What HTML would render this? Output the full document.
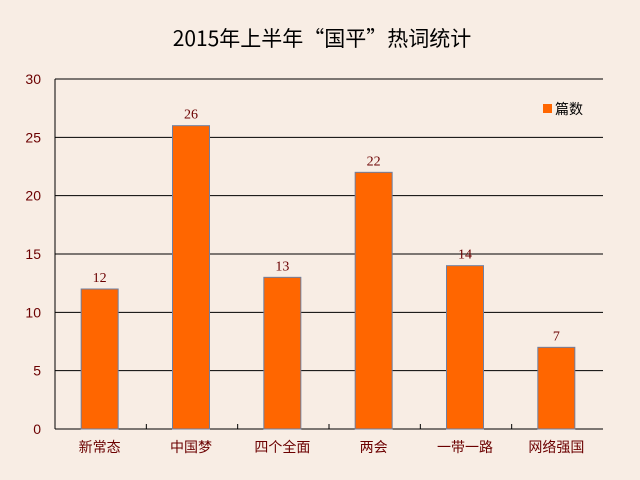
<!DOCTYPE html>
<html><head><meta charset="utf-8"><style>
body{margin:0;background:#f8ede4;}
svg{display:block;font-family:"Liberation Sans","Noto Sans CJK SC",sans-serif;}
</style></head><body>
<svg id="c" width="640" height="480">
<rect width="640" height="480" fill="#f8ede4"/>
<text x="322" y="46" text-anchor="middle" font-size="21" fill="#000" style="font-family:'Noto Sans CJK SC',sans-serif">2015年上半年“国平”热词统计</text>
<g id="grid"></g><g id="bars"></g>
<g>
<rect x="543" y="104" width="9" height="9" fill="#ff6600"/>
<text x="555" y="114" font-size="14" fill="#000">篇数</text>
</g>
</svg>
<script>
const categories=["新常态","中国梦","四个全面","两会","一带一路","网络强国"];
const values=[12,26,13,22,14,7];
const yTicks=[0,5,10,15,20,25,30];
const NS="http://www.w3.org/2000/svg";
const x0=55,x1=603,yTop=79,yBot=429,yMax=30;
const y=v=>yBot-(v/yMax)*(yBot-yTop);
const cw=(x1-x0)/categories.length;
const grid=document.getElementById('grid'),bars=document.getElementById('bars');
function mk(tag,attrs,parent){const e=document.createElementNS(NS,tag);for(const k in attrs)e.setAttribute(k,attrs[k]);parent.appendChild(e);return e;}
yTicks.forEach(t=>{
 const l=mk('line',{x1:x0,x2:x1,y1:y(t),y2:y(t),stroke:'#000','stroke-width':1},grid);
 
 
 const tx=mk('text',{x:41,y:y(t)+5,'text-anchor':'end','font-size':14,fill:'#6b0000'},grid);
 tx.textContent=t;
 
 
});
const ax=mk('line',{x1:x0,x2:x0,y1:yTop,y2:yBot,stroke:'#000'},grid);


for(let i=1;i<categories.length;i++){
 const tk=mk('line',{x1:x0+i*cw,x2:x0+i*cw,y1:yBot,y2:yBot-5,stroke:'#000'},grid);
 
 
}
categories.forEach((c,i)=>{
 const cx=x0+cw*(i+0.5)-1,w=37;
 const r=mk('rect',{x:cx-w/2,y:y(values[i]),width:w,height:yBot-y(values[i]),fill:'#ff6600',stroke:'#6f7fa0','stroke-width':1},bars);
 
 
 const v=mk('text',{x:cx,y:y(values[i])-7,'text-anchor':'middle','font-size':14,fill:'#6b0000',style:"font-family:'Liberation Serif',serif"},bars);
 v.textContent=values[i];
 
 
 const lb=mk('text',{x:cx,y:452,'text-anchor':'middle','font-size':14,fill:'#6b0000'},bars);
 lb.textContent=c;
 
 
});
</script>
</body></html>
